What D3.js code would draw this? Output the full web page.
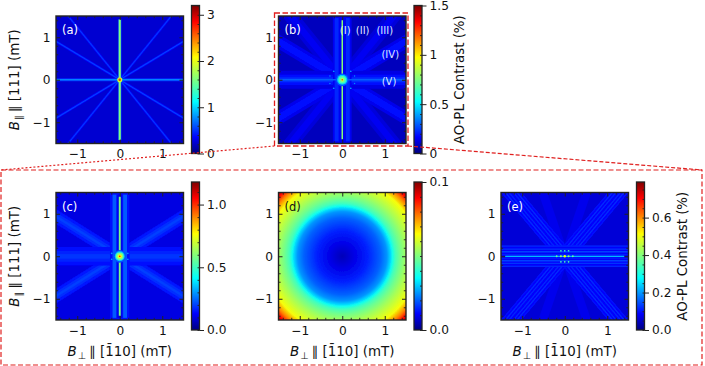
<!DOCTYPE html>
<html>
<head>
<meta charset="utf-8">
<script src="https://cdn.jsdelivr.net/npm/d3@7"></script>
<style>
html, body { margin: 0; padding: 0; background: #fff; }
svg { display: block; }
text { font-family: "DejaVu Sans", sans-serif; fill: #111; }
</style>
</head>
<body>
<svg id="chart" width="705" height="366"></svg>
<script>
var WIDTH = 705;
var HEIGHT = 366;

// field range of every map (mT)
var fieldDomain = [-1.5, 1.5];
var majorTicks = [-1, 0, 1];
var minorTicks = [-1.4, -1.2, -0.8, -0.6, -0.4, -0.2, 0.2, 0.4, 0.6, 0.8, 1.2, 1.4];

// jet colour stops
var jetStops = [0, 0.11, 0.35, 0.5, 0.65, 0.89, 1];
var jetColors = ['#00007f', '#0000ff', '#00ffff', '#7fff7f', '#ffff00', '#ff0000', '#7f0000'];

// streaks: angle (deg), offset (mT, drawn both sides), width (mT), contrast (%), reach (mT)
var raysA = [
    [31, 0, 0.06, 0.36, 2.2], [-31, 0, 0.06, 0.36, 2.2], [51, 0, 0.06, 0.34, 2.2], [-51, 0, 0.06, 0.34, 2.2],
    [0, 0, 0.07, 0.46, 2.2],
    [31, 0, 0.025, 0.56, 2.2], [-31, 0, 0.025, 0.56, 2.2], [51, 0, 0.025, 0.53, 2.2], [-51, 0, 0.025, 0.53, 2.2],
    [0, 0, 0.03, 0.75, 2.2],
    [90, 0, 0.085, 0.5, 1.42],
    [90, 0, 0.05, 1.6, 1.42]
];
var raysB = [
    [51, 0, 0.32, 0.12, 2.2], [-51, 0, 0.32, 0.12, 2.2],
    [31, 0, 0.3, 0.14, 2.2], [-31, 0, 0.3, 0.14, 2.2],
    [51, 0, 0.15, 0.15, 2.2], [-51, 0, 0.15, 0.15, 2.2],
    [31, 0, 0.16, 0.18, 2.2], [-31, 0, 0.16, 0.18, 2.2],
    [0, 0, 0.42, 0.13, 2.2], [0, 0, 0.25, 0.18, 2.2],
    [0, 0, 0.12, 0.23, 2.2],
    [90, 0, 0.44, 0.15, 2.2],
    [90, 0.13, 0.09, 0.22, 1.45],
    [0, 0, 0.035, 0.3, 2.2],
    [90, 0, 0.06, 0.14, 1.45],
    [90, 0, 0.035, 0.76, 1.4]
];
var raysC = [
    [32, 0, 0.3, 0.15, 2.2], [-32, 0, 0.3, 0.15, 2.2],
    [32, 0, 0.17, 0.18, 2.2], [-32, 0, 0.17, 0.18, 2.2],
    [32, 0, 0.06, 0.2, 2.2], [-32, 0, 0.06, 0.2, 2.2],
    [0, 0, 0.44, 0.14, 2.2], [0, 0, 0.26, 0.17, 2.2], [0, 0, 0.1, 0.19, 2.2],
    [90, 0, 0.46, 0.14, 1.5],
    [90, 0.125, 0.09, 0.23, 1.45],
    [90, 0, 0.1, 0.11, 1.45],
    [90, 0, 0.045, 0.58, 1.4]
];
var raysE = [
    [71, 0, 0.2, 0.075, 2.2], [-71, 0, 0.2, 0.075, 2.2],
    [50, 0, 0.36, 0.085, 2.2], [-50, 0, 0.36, 0.085, 2.2],
    [50, 0.04, 0.03, 0.115, 2.2], [-50, 0.04, 0.03, 0.115, 2.2],
    [50, 0.105, 0.03, 0.12, 2.2], [-50, 0.105, 0.03, 0.12, 2.2],
    [50, 0.17, 0.028, 0.1, 2.2], [-50, 0.17, 0.028, 0.1, 2.2],
    [0, 0, 0.5, 0.085, 2.2],
    [0, 0.105, 0.035, 0.135, 2.2], [0, 0.17, 0.03, 0.125, 2.2], [0, 0.24, 0.028, 0.115, 2.2],
    [0, 0.045, 0.02, 0.12, 2.2],
    [0, 0, 0.025, 0.27, 1.4]
];

// bright spots near zero field: x, y (mT), radius (mT), contrast (%)
var spotsA = [[0, 0, 0.06, 1.9], [0, 0, 0.03, 2.7]];
var spotsB = [
    [0, 0, 0.15, 0.28], [0, 0, 0.12, 0.46], [0, 0, 0.09, 0.66], [0, 0, 0.05, 0.82], [0, 0, 0.018, 1.25],
    [-0.2, 0.2, 0.02, 0.38], [0.2, 0.2, 0.02, 0.38], [-0.2, -0.2, 0.02, 0.38], [0.2, -0.2, 0.02, 0.38],
    [-0.29, 0.09, 0.018, 0.36], [0.29, 0.09, 0.018, 0.36], [-0.29, -0.09, 0.018, 0.36], [0.29, -0.09, 0.018, 0.36]
];
var spotsC = [
    [0, 0, 0.15, 0.22], [0, 0, 0.115, 0.36], [0, 0, 0.09, 0.58], [0, 0, 0.05, 0.75], [0, 0, 0.02, 1.0],
    [-0.19, 0.07, 0.02, 0.3], [0.19, 0.07, 0.02, 0.3], [-0.19, -0.07, 0.02, 0.3], [0.19, -0.07, 0.02, 0.3]
];
var spotsE = [
    [0, 0.13, 0.02, 0.34], [-0.09, 0.13, 0.02, 0.34], [0.09, 0.13, 0.02, 0.34],
    [0, -0.13, 0.02, 0.34], [-0.09, -0.13, 0.02, 0.34], [0.09, -0.13, 0.02, 0.34],
    [-0.19, 0, 0.022, 0.36], [0.19, 0, 0.022, 0.36], [-0.09, 0, 0.025, 0.42], [0.09, 0, 0.025, 0.42],
    [0, 0, 0.03, 0.5]
];

// radial profile of map (d): field magnitude (mT), contrast (%)
var radiusD = [0, 0.3, 0.6, 0.9, 1.05, 1.13, 1.18, 1.25, 1.35, 1.5, 1.79, 1.94, 2.05, 2.13];
var contrastD = [0.005, 0.009, 0.014, 0.02, 0.025, 0.031, 0.037, 0.043, 0.048, 0.054, 0.064, 0.077, 0.089, 0.097];

// map annotations: label, x, y (mT)
var romanLabels = ['(I)', '(II)', '(III)', '(IV)', '(V)'];
var romanX = [0.07, 0.48, 1.0, 1.13, 1.1];
var romanY = [1.16, 1.16, 1.16, 0.6, -0.04];

// colourbar ticks
var barMajorA = [0, 1, 2, 3];
var barMajorB = [0, 0.5, 1, 1.5];
var barMajorC = [0, 0.5, 1];
var barMajorD = [0, 0.1];
var barMajorE = [0, 0.2, 0.4, 0.6];
var barLabelsB = ['0', '0.5', '1', '1.5'];

var panels = [
    {name: '(a)', left: 56, top: 16, max: 3.2, bg: 0.225, rays: raysA, spots: spotsA, major: barMajorA, step: 0.2, labels: barMajorA.map(String), yLabel: true, xLabel: false, barLabel: false, tag: '#fff'},
    {name: '(b)', left: 278.5, top: 16, max: 1.5, bg: 0.08, rays: raysB, spots: spotsB, major: barMajorB, step: 0.1, labels: barLabelsB, yLabel: false, xLabel: false, barLabel: true, tag: '#fff'},
    {name: '(c)', left: 56, top: 192.5, max: 1.18, bg: 0.1, rays: raysC, spots: spotsC, major: barMajorC, step: 0.1, labels: ['0.0', '0.5', '1.0'], yLabel: true, xLabel: true, barLabel: false, tag: '#fff'},
    {name: '(d)', left: 278.5, top: 192.5, max: 0.1, bg: 0, rays: [], spots: [], major: barMajorD, step: 0.01, labels: ['0.0', '0.1'], yLabel: false, xLabel: true, barLabel: false, tag: '#111'},
    {name: '(e)', left: 501, top: 192.5, max: 0.79, bg: 0.06, rays: raysE, spots: spotsE, major: barMajorE, step: 0.05, labels: ['0.0', '0.2', '0.4', '0.6'], yLabel: false, xLabel: true, barLabel: true, tag: '#fff'}
];

var SIZE = 127.5;
var BAR_GAP = 8;
var BAR_WIDTH = 8;
var BAR_TOP = -10.5;
var BAR_HEIGHT = 148;
var TICK_FONT = 12.2;
var LABEL_FONT = 13.4;
var INK = '#222';

var svg = d3.select('#chart');
var defs = svg.append('defs');

defs.append('filter').attr('id', 'soft')
    .attr('x', '-5%').attr('y', '-5%').attr('width', '110%').attr('height', '110%')
    .append('feGaussianBlur').attr('stdDeviation', 0.5);

var jetValue = d3.scaleLinear().domain(jetStops).range(jetColors).clamp(true);

var addMathLabel = function(g, head, sub, tail){
    var t = g.append('text').attr('font-size', LABEL_FONT).attr('text-anchor', 'middle');
    t.append('tspan').attr('font-style', 'italic').text(head);
    t.append('tspan').attr('font-size', 9.5).attr('dy', 3).attr('dx', 1).text(sub);
    t.append('tspan').attr('dy', -3).attr('dx', 3).text(tail);
    return t;
};

var drawPanel = function(p, index){
    var g = svg.append('g').attr('transform', 'translate(' + p.left + ',' + p.top + ')');
    var x = d3.scaleLinear().domain(fieldDomain).range([0, SIZE]);
    var y = d3.scaleLinear().domain(fieldDomain).range([SIZE, 0]);
    var color = function(v){ return jetValue(v / p.max); };
    var clipId = 'clip' + index;

    defs.append('clipPath').attr('id', clipId)
        .append('rect').attr('width', SIZE).attr('height', SIZE);

    var map = g.append('g').attr('clip-path', 'url(#' + clipId + ')')
        .append('g').attr('filter', 'url(#soft)');

    map.append('rect')
        .attr('x', -3).attr('y', -3)
        .attr('width', SIZE + 6).attr('height', SIZE + 6)
        .attr('fill', color(p.bg));

    // both-side copies of the offset streaks
    var stripes = [];
    p.rays.forEach(function(r){
        stripes.push({angle: r[0], offset: r[1], width: r[2], value: r[3], reach: r[4]});
        if (r[1] !== 0) {
            stripes.push({angle: r[0], offset: -r[1], width: r[2], value: r[3], reach: r[4]});
        }
    });

    map.selectAll('line.ray')
        .data(stripes)
        .enter()
        .append('line')
        .attr('class', 'ray')
        .attr('x1', function(d){ var a = d.angle * Math.PI / 180; return x(-Math.sin(a) * d.offset - Math.cos(a) * d.reach); })
        .attr('y1', function(d){ var a = d.angle * Math.PI / 180; return y(Math.cos(a) * d.offset - Math.sin(a) * d.reach); })
        .attr('x2', function(d){ var a = d.angle * Math.PI / 180; return x(-Math.sin(a) * d.offset + Math.cos(a) * d.reach); })
        .attr('y2', function(d){ var a = d.angle * Math.PI / 180; return y(Math.cos(a) * d.offset + Math.sin(a) * d.reach); })
        .attr('stroke', function(d){ return color(d.value); })
        .attr('stroke-width', function(d){ return x(d.width) - x(0); });

    map.selectAll('circle.spot')
        .data(p.spots)
        .enter()
        .append('circle')
        .attr('class', 'spot')
        .attr('cx', function(d){ return x(d[0]); })
        .attr('cy', function(d){ return y(d[1]); })
        .attr('r', function(d){ return x(d[2]) - x(0); })
        .attr('fill', function(d){ return color(d[3]); });

    // map (d) is a smooth radial profile
    if (p.name === '(d)') {
        var grad = defs.append('radialGradient').attr('id', 'radialD');
        var rMax = radiusD[radiusD.length - 1];
        grad.selectAll('stop')
            .data(radiusD)
            .enter()
            .append('stop')
            .attr('offset', function(d){ return d / rMax; })
            .attr('stop-color', function(d, i){ return color(contrastD[i]); });
        map.append('circle')
            .attr('cx', x(0)).attr('cy', y(0))
            .attr('r', x(rMax) - x(0))
            .attr('fill', 'url(#radialD)');
    }

    // axes, ticks point inwards on all four sides
    var sides = [
        {axis: d3.axisBottom, scale: x, at: [0, SIZE], label: true},
        {axis: d3.axisLeft, scale: y, at: [0, 0], label: true},
        {axis: d3.axisTop, scale: x, at: [0, 0], label: false},
        {axis: d3.axisRight, scale: y, at: [SIZE, 0], label: false}
    ];
    sides.forEach(function(s){
        var minor = g.append('g')
            .attr('transform', 'translate(' + s.at[0] + ',' + s.at[1] + ')')
            .call(s.axis(s.scale).tickValues(minorTicks).tickSize(-2.2).tickFormat(''));
        minor.select('.domain').remove();
        minor.selectAll('line').attr('stroke', INK).attr('stroke-width', 0.9);

        var major = g.append('g')
            .attr('transform', 'translate(' + s.at[0] + ',' + s.at[1] + ')')
            .call(s.axis(s.scale).tickValues(majorTicks).tickSize(-4).tickPadding(s.axis === d3.axisLeft ? 5.5 : 6)
                .tickFormat(s.label ? function(d){ return d < 0 ? '\u2212' + (-d) : d; } : ''));
        major.select('.domain').remove();
        major.selectAll('line').attr('stroke', INK).attr('stroke-width', 1);
        major.selectAll('text').attr('font-size', TICK_FONT).attr('font-family', '"DejaVu Sans"').attr('fill', '#111');
    });

    g.append('rect')
        .attr('width', SIZE).attr('height', SIZE)
        .attr('fill', 'none').attr('stroke', INK).attr('stroke-width', 1.4);

    g.append('text')
        .attr('x', x(-1.36)).attr('y', y(1.16))
        .attr('dy', '0.35em')
        .attr('font-size', 11.5)
        .style('fill', p.tag)
        .text(p.name);

    if (p.name === '(b)') {
        g.selectAll('text.roman')
            .data(romanLabels)
            .enter()
            .append('text')
            .attr('class', 'roman')
            .attr('x', function(d, i){ return x(romanX[i]); })
            .attr('y', function(d, i){ return y(romanY[i]); })
            .attr('dy', '0.35em')
            .attr('text-anchor', 'middle')
            .attr('font-size', 10)
            .style('fill', '#dfe6ff')
            .text(function(d){ return d; });
    }

    if (p.yLabel) {
        addMathLabel(g, 'B', '\u2225', '\u2225 [111] (mT)')
            .attr('transform', 'translate(-37.5,' + (SIZE / 2) + ') rotate(-90)');
    }
    if (p.xLabel) {
        addMathLabel(g, 'B', '\u22a5', '\u2225 [1\u030410] (mT)')
            .attr('transform', 'translate(' + (SIZE / 2) + ',' + (SIZE + 36) + ')');
    }

    // colourbar
    var barX = SIZE + BAR_GAP;
    var bar = g.append('g').attr('transform', 'translate(' + barX + ',' + BAR_TOP + ')');
    var barScale = d3.scaleLinear().domain([0, p.max]).range([BAR_HEIGHT, 0]);
    var barGrad = defs.append('linearGradient').attr('id', 'bar' + index)
        .attr('x1', 0).attr('y1', 1).attr('x2', 0).attr('y2', 0);
    barGrad.selectAll('stop')
        .data(jetStops)
        .enter()
        .append('stop')
        .attr('offset', function(d){ return d; })
        .attr('stop-color', function(d, i){ return jetColors[i]; });

    bar.append('rect')
        .attr('width', BAR_WIDTH).attr('height', BAR_HEIGHT)
        .attr('fill', 'url(#bar' + index + ')');

    var barMinor = d3.range(0, p.max + 1e-9, p.step);
    var minorAxis = bar.append('g')
        .attr('transform', 'translate(' + BAR_WIDTH + ',0)')
        .call(d3.axisRight(barScale).tickValues(barMinor).tickSize(-2).tickFormat(''));
    minorAxis.select('.domain').remove();
    minorAxis.selectAll('line').attr('stroke', INK).attr('stroke-width', 0.9);

    var majorAxis = bar.append('g')
        .attr('transform', 'translate(' + BAR_WIDTH + ',0)')
        .call(d3.axisRight(barScale).tickValues(p.major).tickSize(4.5).tickPadding(3)
            .tickFormat(function(d, i){ return p.labels[i]; }));
    majorAxis.select('.domain').remove();
    majorAxis.selectAll('line').attr('stroke', INK).attr('stroke-width', 1);
    majorAxis.selectAll('text').attr('font-size', TICK_FONT).attr('font-family', '"DejaVu Sans"').attr('fill', '#111');

    bar.append('rect')
        .attr('width', BAR_WIDTH).attr('height', BAR_HEIGHT)
        .attr('fill', 'none').attr('stroke', INK).attr('stroke-width', 1.3);

    if (p.barLabel) {
        g.append('text')
            .attr('transform', 'translate(' + (barX + 50) + ',' + (SIZE / 2) + ') rotate(-90)')
            .attr('text-anchor', 'middle')
            .attr('font-size', LABEL_FONT)
            .text('AO-PL Contrast (%)');
    }
};

panels.forEach(drawPanel);

// red call-out frames
var RED = '#e0201f';
var frame = svg.append('g').attr('fill', 'none').attr('stroke', RED);
frame.append('rect')
    .attr('x', 1).attr('y', 170).attr('width', 701).attr('height', 195)
    .attr('stroke-width', 1.2).attr('stroke-dasharray', '5,2.5');
frame.append('rect')
    .attr('x', 274.5).attr('y', 13).attr('width', 133.5).attr('height', 133)
    .attr('stroke-width', 1.3).attr('stroke-dasharray', '5.5,2.5');
frame.append('line')
    .attr('x1', 274.5).attr('y1', 146).attr('x2', 1).attr('y2', 170)
    .attr('stroke-width', 1.2).attr('stroke-dasharray', '2,2');
frame.append('line')
    .attr('x1', 408).attr('y1', 146).attr('x2', 702).attr('y2', 170)
    .attr('stroke-width', 1.2).attr('stroke-dasharray', '4,2');
</script>
</body>
</html>
